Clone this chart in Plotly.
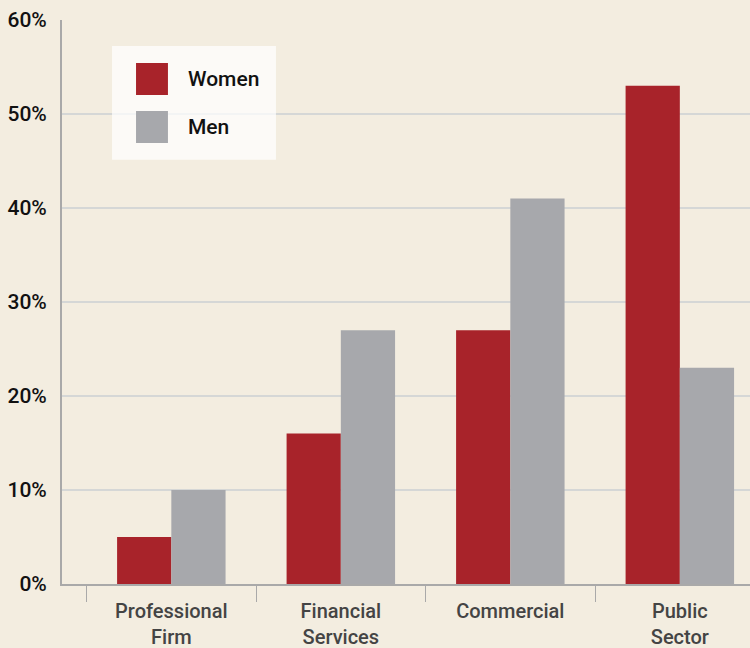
import plotly.graph_objects as go

# ── data ───────────────────────────────────────────────────────────────────
categories = ["Professional<br>Firm", "Financial<br>Services", "Commercial", "Public<br>Sector"]
women = [5, 16, 27, 53]
men = [10, 27, 41, 23]
y_ticks = [0, 10, 20, 30, 40, 50, 60]
y_labels = [f"{v}%" for v in y_ticks]

# ── colours ────────────────────────────────────────────────────────────────
BG = "#F3EDE0"
RED = "#A8232A"
GREY = "#A7A8AC"
GRID = "#D5D7D6"
AXIS = "#A9A9A9"
FONT = "Roboto, sans-serif"

fig = go.Figure()
fig.add_trace(go.Bar(x=categories, y=women, name="Women",
                     marker=dict(color=RED, line=dict(width=0))))
fig.add_trace(go.Bar(x=categories, y=men, name="Men",
                     marker=dict(color=GREY, line=dict(width=0))))

# custom legend (large swatches)
legend_items = [("Women", RED, 0.867, 0.9238, 0.8954),
                ("Men", GREY, 0.7819, 0.8387, 0.8103)]
shapes = [dict(type="rect", xref="paper", yref="paper",
               x0=0.0727, x1=0.311, y0=0.752, y1=0.954,
               fillcolor="rgba(255,255,255,0.72)", line=dict(width=0), layer="above")]
annotations = []
for label, col, y0, y1, yc in legend_items:
    shapes.append(dict(type="rect", xref="paper", yref="paper",
                       x0=0.1076, x1=0.154, y0=y0, y1=y1,
                       fillcolor=col, line=dict(width=0), layer="above"))
    annotations.append(dict(xref="paper", yref="paper", x=0.180, y=yc,
                            text=label, showarrow=False, xanchor="left", yanchor="middle",
                            font=dict(family=FONT, size=21, color="#111111", weight=500)))

fig.update_layout(
    paper_bgcolor=BG,
    plot_bgcolor=BG,
    width=750, height=648,
    margin=dict(l=62, r=0, t=20, b=64),
    barmode="group",
    bargap=0.36,
    bargroupgap=0,
    showlegend=False,
    font=dict(family=FONT, size=20, color="#111111"),
    shapes=shapes,
    annotations=annotations,
    xaxis=dict(
        range=[-0.645, 3.414],
        showgrid=False,
        showline=True, linecolor=AXIS, linewidth=2,
        ticks="outside", tickson="boundaries", ticklen=16, tickcolor=AXIS, tickwidth=1,
        ticklabelstandoff=8,
        tickfont=dict(family=FONT, size=20, color="#444444", weight=500),
    ),
    yaxis=dict(
        range=[0, 60],
        tickvals=y_ticks, ticktext=y_labels,
        showgrid=True, gridcolor=GRID, gridwidth=1.5,
        showline=True, linecolor=AXIS, linewidth=2,
        zeroline=False,
        ticks="", ticklabelstandoff=9,
        tickfont=dict(family=FONT, size=21, color="#111111", weight=500),
    ),
)

fig.write_html("out.html", config=dict(displayModeBar=False),
               post_script="document.body.style.margin='0';")
